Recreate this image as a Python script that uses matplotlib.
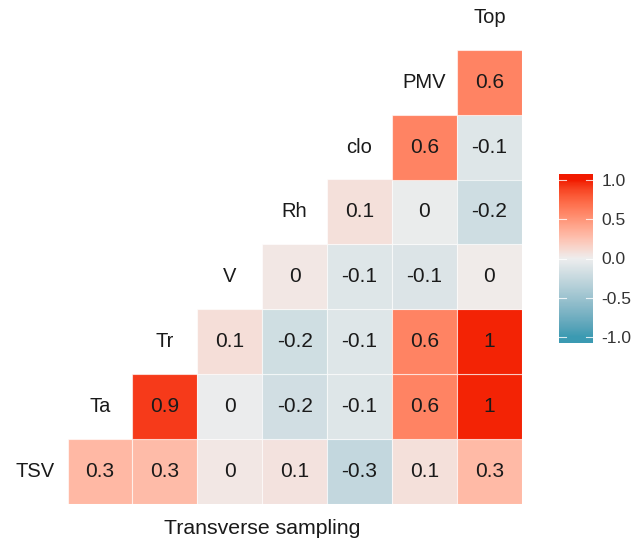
import numpy as np
import matplotlib
matplotlib.use("Agg")
import matplotlib.pyplot as plt
from matplotlib.colors import ListedColormap, Normalize, to_rgb
from matplotlib.patches import Rectangle

# variables along the diagonal, bottom-left to top-right
variables = ["TSV", "Ta", "Tr", "V", "Rh", "clo", "PMV", "Top"]

# correlations of each row variable with the variables to its right
r_tsv = [0.31, 0.29, 0.04, 0.07, -0.27, 0.08, 0.3]
r_ta = [0.92, -0.02, -0.18, -0.1, 0.6, 0.98]
r_tr = [0.09, -0.19, -0.1, 0.6, 0.98]
r_v = [0.04, -0.1, -0.11, 0.02]
r_rh = [0.08, -0.03, -0.2]
r_clo = [0.6, -0.1]
r_pmv = [0.6]
corr_rows = [r_tsv, r_ta, r_tr, r_v, r_rh, r_clo, r_pmv]

cbar_ticks = [-1.0, -0.5, 0.0, 0.5, 1.0]

plt.rcParams["font.family"] = ["Liberation Sans", "DejaVu Sans"]


def srgb_to_lab(rgb):
    c = np.array(rgb, dtype=float)
    c = np.where(c > 0.04045, ((c + 0.055) / 1.055) ** 2.4, c / 12.92)
    m = np.array([[0.4124, 0.3576, 0.1805],
                  [0.2126, 0.7152, 0.0722],
                  [0.0193, 0.1192, 0.9505]])
    xyz = m @ c / np.array([0.95047, 1.0, 1.08883])
    f = np.where(xyz > 0.008856, np.cbrt(xyz), 7.787 * xyz + 16 / 116)
    return np.array([116 * f[1] - 16, 500 * (f[0] - f[1]), 200 * (f[1] - f[2])])


def lab_to_srgb(lab):
    fy = (lab[0] + 16) / 116
    fx = fy + lab[1] / 500
    fz = fy - lab[2] / 200
    f = np.array([fx, fy, fz])
    xyz = np.where(f ** 3 > 0.008856, f ** 3, (f - 16 / 116) / 7.787)
    xyz = xyz * np.array([0.95047, 1.0, 1.08883])
    m = np.array([[3.2406, -1.5372, -0.4986],
                  [-0.9689, 1.8758, 0.0415],
                  [0.0557, -0.2040, 1.0570]])
    c = m @ xyz
    c = np.where(c > 0.0031308, 1.055 * np.clip(c, 0, None) ** (1 / 2.4) - 0.055, 12.92 * c)
    return np.clip(c, 0, 1)


def gradient2(low, mid, high, n=256):
    lo, mi, hi = (srgb_to_lab(to_rgb(c)) for c in (low, mid, high))
    cols = []
    for t in np.linspace(-1, 1, n):
        if t < 0:
            lab = mi + (lo - mi) * (-t)
        else:
            lab = mi + (hi - mi) * t
        cols.append(lab_to_srgb(lab))
    return ListedColormap(cols)


def fmt(v):
    r = round(v, 1) + 0.0
    return f"{r:g}"


cmap = gradient2("#3B9AB2", "#EEEEEE", "#F21A00")
norm = Normalize(-1, 1)

W, H = 632, 540
cell = 64.9
fig = plt.figure(figsize=(W / 100, H / 100), dpi=100)
ax = fig.add_axes([2.6 / W, 36 / H, cell * 8 / W, cell * 7.75 / H])
ax.set_xlim(0, 8)
ax.set_ylim(0, 7.75)
ax.axis("off")

for k, row in enumerate(corr_rows):
    for i, v in enumerate(row):
        j = k + 1 + i
        ax.add_patch(Rectangle((j, k), 1, 1, facecolor=cmap(norm(v)),
                               edgecolor=(1, 1, 1, 0.6), linewidth=0.8))
        ax.text(j + 0.5, k + 0.5, fmt(v), ha="center", va="center",
                fontsize=15, color="#1a1a1a")

for k, name in enumerate(variables):
    ax.text(k + 0.5, k + 0.5, name, ha="center", va="center",
            fontsize=14.5, color="#1a1a1a")

fig.text(262 / W, 1 - 534 / H, "Transverse sampling", ha="center",
         va="baseline", fontsize=15.3, color="#1a1a1a")

# colour bar
cax = fig.add_axes([559 / W, 197 / H, 34 / W, 169 / H])
grad = np.linspace(-1.075, 1.075, 300).reshape(-1, 1)
cax.imshow(grad, cmap=cmap, norm=norm, aspect="auto", origin="lower",
           extent=[0, 1, -1.075, 1.075])
cax.set_xlim(0, 1)
cax.set_ylim(-1.075, 1.075)
for t in cbar_ticks:
    cax.plot([0, 0.2], [t, t], color="white", lw=0.8, alpha=0.8)
    cax.plot([0.8, 1], [t, t], color="white", lw=0.8, alpha=0.8)
cax.set_xticks([])
cax.yaxis.tick_right()
cax.set_yticks(cbar_ticks)
cax.set_yticklabels([f"{t:.1f}" for t in cbar_ticks])
cax.tick_params(axis="y", length=0, pad=6, labelsize=12.5, labelcolor="#333333")
for s in cax.spines.values():
    s.set_visible(False)

fig.savefig("out.png", dpi=100)
